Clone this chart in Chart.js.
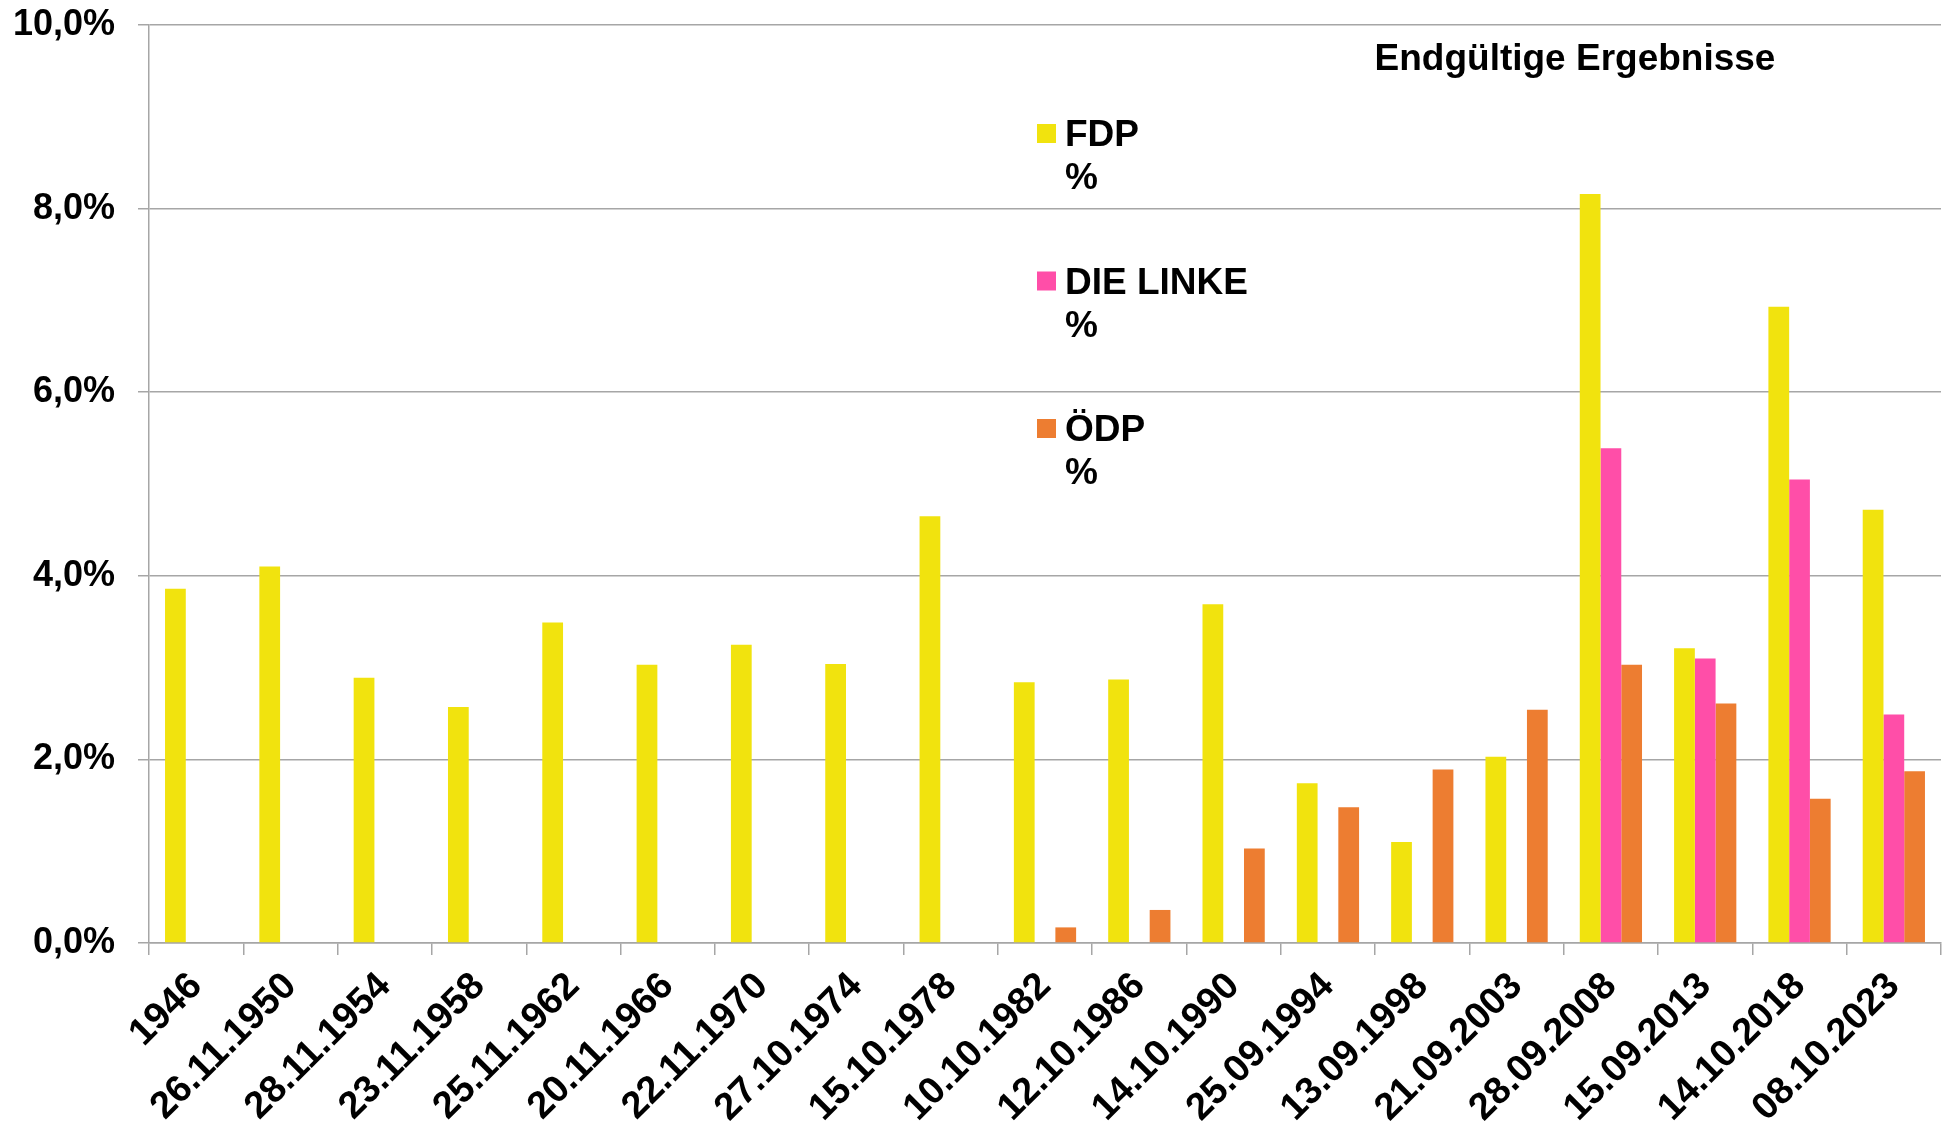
<!DOCTYPE html>
<html>
<head>
<meta charset="utf-8">
<script src="https://cdn.jsdelivr.net/npm/chart.js@4.4.0/dist/chart.umd.min.js"></script>
<style>
  html, body { margin: 0; padding: 0; background: #fff; }
  canvas { display: block; }
</style>
</head>
<body>
<canvas id="chart" width="1945" height="1125"></canvas>
<script>
const elections = ["1946", "26.11.1950", "28.11.1954", "23.11.1958", "25.11.1962", "20.11.1966",
    "22.11.1970", "27.10.1974", "15.10.1978", "10.10.1982", "12.10.1986", "14.10.1990",
    "25.09.1994", "13.09.1998", "21.09.2003", "28.09.2008", "15.09.2013", "14.10.2018", "08.10.2023"];

const fdp = [3.86, 4.10, 2.89, 2.57, 3.49, 3.03, 3.25, 3.04, 4.65, 2.84, 2.87, 3.69,
    1.74, 1.10, 2.03, 8.16, 3.21, 6.93, 4.72];
const linke = [null, null, null, null, null, null, null, null, null, null, null, null,
    null, null, null, 5.39, 3.10, 5.05, 2.49];
const oedp = [null, null, null, null, null, null, null, null, null, 0.17, 0.36, 1.03,
    1.48, 1.89, 2.54, 3.03, 2.61, 1.57, 1.87];

const seriesNames = ["FDP", "DIE LINKE", "ÖDP"];
const yTicks = [0, 2, 4, 6, 8, 10];
const chartTitle = "Endgültige Ergebnisse";

const colors = ["#F1E30E", "#FF4EA8", "#ED7D31"];
const gridColor = "#A6A6A6";
const font = "'Liberation Sans', Arial, sans-serif";

// legend and note sit inside the plot area, so they are drawn here
const overlayPlugin = {
    id: "overlay",
    afterDraw(chart) {
        const ctx = chart.ctx;
        ctx.save();
        ctx.fillStyle = "#000";
        ctx.font = "bold 37px " + font;
        ctx.textAlign = "center";
        ctx.textBaseline = "alphabetic";
        ctx.fillText(chartTitle, 1575, 70);

        ctx.textAlign = "left";
        ctx.font = "bold 37px " + font;
        chart.data.datasets.forEach((ds, i) => {
            const top = 124 + i * 147.5;
            ctx.fillStyle = ds.backgroundColor;
            ctx.fillRect(1037, top, 19, 19);
            ctx.fillStyle = "#000";
            ctx.fillText(ds.label, 1065, top + 22);
            ctx.fillText("%", 1065, top + 65);
        });
        ctx.restore();
    }
};

new Chart(document.getElementById("chart"), {
    type: "bar",
    data: {
        labels: elections,
        datasets: [
            { label: seriesNames[0], data: fdp, backgroundColor: colors[0] },
            { label: seriesNames[1], data: linke, backgroundColor: colors[1] },
            { label: seriesNames[2], data: oedp, backgroundColor: colors[2] }
        ]
    },
    options: {
        responsive: false,
        animation: false,
        categoryPercentage: 0.66,
        barPercentage: 1.0,
        layout: { padding: { top: 25, right: 4, left: 0, bottom: 0 } },
        plugins: {
            legend: { display: false },
            title: { display: false },
            tooltip: { enabled: false }
        },
        scales: {
            x: {
                grid: {
                    offset: true,
                    drawOnChartArea: false,
                    drawTicks: true,
                    tickLength: 12,
                    color: gridColor,
                    lineWidth: 1.5
                },
                border: { color: gridColor, width: 1.5 },
                ticks: {
                    autoSkip: false,
                    minRotation: 45,
                    maxRotation: 45,
                    padding: 9,
                    color: "#000",
                    font: { family: font, size: 38, weight: "bold" }
                },
                afterFit(scale) {
                    scale.height = 182;
                    scale.paddingLeft = 0;
                    scale.paddingRight = 0;
                }
            },
            y: {
                min: 0,
                max: 10,
                afterBuildTicks(scale) { scale.ticks = yTicks.map(v => ({ value: v })); },
                grid: {
                    color: gridColor,
                    lineWidth: 1.5,
                    tickLength: 11
                },
                border: { color: gridColor, width: 1.5 },
                ticks: {
                    padding: 23,
                    color: "#000",
                    font: { family: font, size: 36, weight: "bold" },
                    callback: v => v.toFixed(1).replace(".", ",") + "%"
                },
                afterFit(scale) {
                    scale.width = 149;
                    scale.paddingTop = 0;
                    scale.paddingBottom = 0;
                }
            }
        }
    },
    plugins: [overlayPlugin]
});
</script>
</body>
</html>
